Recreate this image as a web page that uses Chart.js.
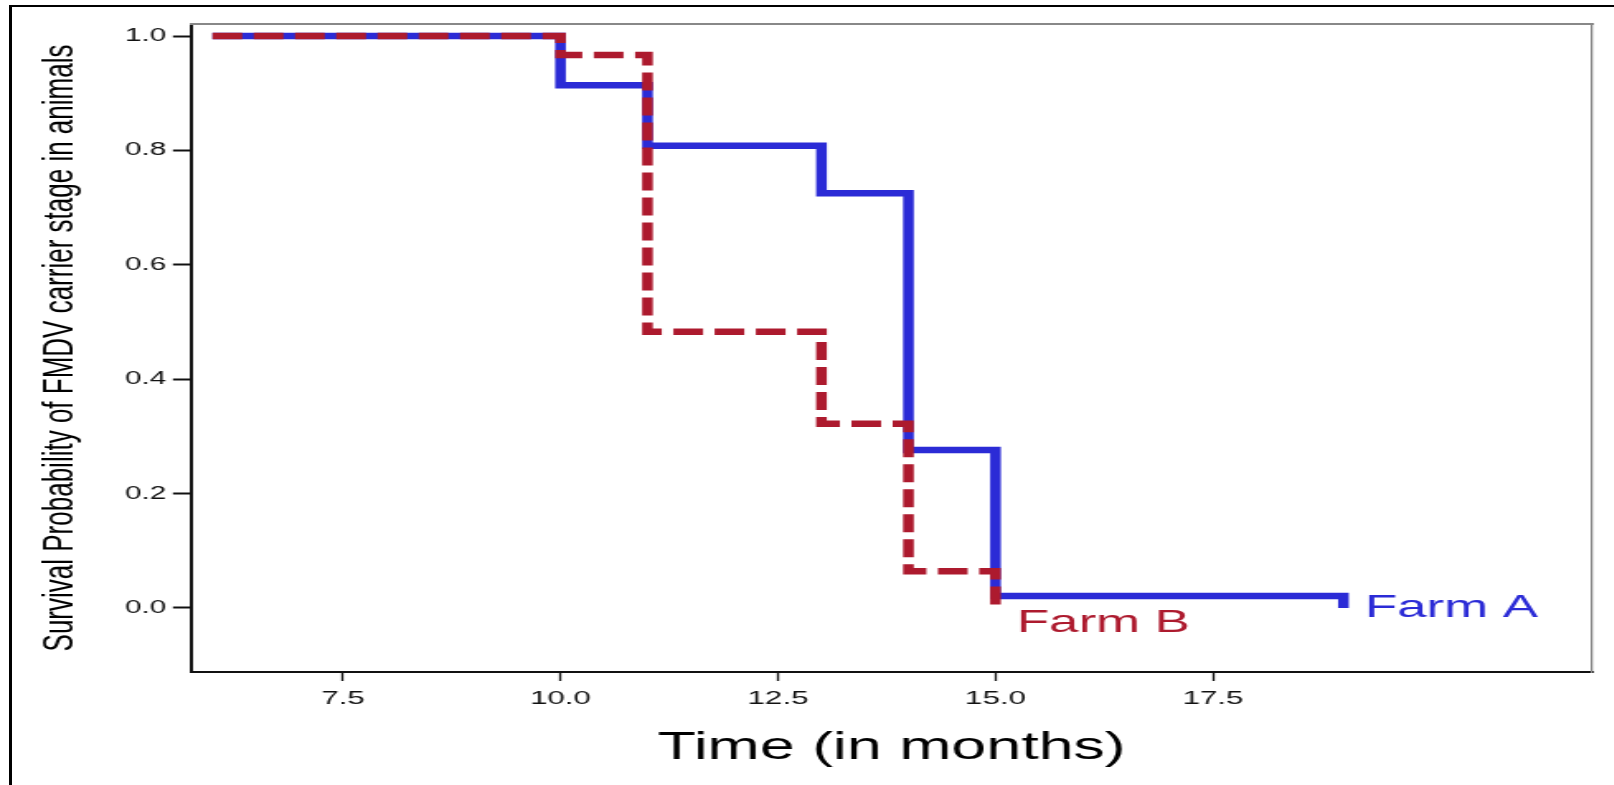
<!DOCTYPE html>
<html>
<head>
<meta charset="utf-8">
<title>Survival curves</title>
<script src="https://cdn.jsdelivr.net/npm/chart.js@4"></script>
<style>
  html, body { margin: 0; padding: 0; background: #fff; overflow: hidden; }
  #frame {
    position: absolute; left: 9px; top: 5px; width: 2000px; height: 2000px;
    border-left: 3px solid #000; border-top: 2px solid #000;
  }
  /* the reference is stretched sideways, so the canvas is too */
  #stretch { position: absolute; left: 0; top: 0; transform: scaleX(1.65); transform-origin: 0 0; }
</style>
</head>
<body>
<div id="frame"></div>
<div id="stretch"><canvas id="kmChart" width="978" height="785"></canvas></div>
<script>
// Kaplan-Meier steps
const farmATime = [6, 10, 11, 13, 14, 15, 19];
const farmASurv = [1.0, 0.914, 0.808, 0.725, 0.276, 0.021, 0.0];
const farmBTime = [6, 10, 11, 13, 14, 15];
const farmBSurv = [1.0, 0.967, 0.483, 0.322, 0.064, 0.0];

const xTicks = [7.5, 10, 12.5, 15, 17.5];
const yTicks = [0, 0.2, 0.4, 0.6, 0.8, 1.0];

const curveNames = ["Farm A", "Farm B"];
const curveColors = ["#2b2bd6", "#ad1a2e"];
const curveEnds = [[19, 0], [15, 0]];

const toPoints = (t, s) => t.map((v, i) => ({ x: v, y: s[i] }));

Chart.defaults.font.family = '"Liberation Sans", Arial, Helvetica, sans-serif';
Chart.defaults.color = "#111";

// names written next to the end of each curve
const curveLabelPlugin = {
  id: "curveLabels",
  afterDatasetsDraw(chart) {
    const ctx = chart.ctx;
    const xs = chart.scales.x;
    const ys = chart.scales.y;
    const nudgeY = [0, 15];
    ctx.save();
    ctx.font = '32px "Liberation Sans", Arial, sans-serif';
    ctx.textAlign = "left";
    ctx.textBaseline = "middle";
    curveNames.forEach((name, i) => {
      ctx.fillStyle = curveColors[i];
      ctx.fillText(
        name,
        xs.getPixelForValue(curveEnds[i][0]) + 13,
        ys.getPixelForValue(curveEnds[i][1]) + nudgeY[i]
      );
    });
    ctx.restore();
  },
};

const ctx = document.getElementById("kmChart").getContext("2d");
new Chart(ctx, {
  type: "line",
  data: {
    datasets: [
      {
        label: curveNames[0],
        data: toPoints(farmATime, farmASurv),
        borderColor: curveColors[0],
        borderWidth: 6.5,
        stepped: "before",
        pointRadius: 0,
        borderCapStyle: "butt",
        borderJoinStyle: "miter",
        fill: false,
        order: 1,
      },
      {
        label: curveNames[1],
        data: toPoints(farmBTime, farmBSurv),
        borderColor: curveColors[1],
        borderWidth: 6.5,
        borderDash: [18, 7],
        stepped: "before",
        pointRadius: 0,
        borderCapStyle: "butt",
        borderJoinStyle: "miter",
        fill: false,
        order: 0,
      },
    ],
  },
  options: {
    responsive: false,
    animation: false,
    layout: { padding: { top: 24, right: 13, left: 0, bottom: 0 } },
    plugins: {
      legend: { display: false },
      tooltip: { enabled: false },
    },
    scales: {
      x: {
        type: "linear",
        position: "bottom",
        min: 5.754,
        max: 21.86,
        afterBuildTicks: (s) => { s.ticks = xTicks.map((v) => ({ value: v })); },
        afterFit: (s) => { s.height = 113; },
        ticks: {
          callback: (v) => Number(v).toFixed(1),
          font: { size: 19 },
          color: "#111",
          padding: 6,
          maxRotation: 0,
          autoSkip: false,
        },
        grid: { drawOnChartArea: false, tickLength: 9, tickWidth: 1.3, tickColor: "#111" },
        border: { color: "#111", width: 2 },
        title: {
          display: true,
          text: "Time (in months)",
          color: "#000",
          font: { size: 38 },
          padding: { top: 0, bottom: 14 },
        },
      },
      y: {
        type: "linear",
        position: "left",
        min: -0.112,
        max: 1.021,
        afterBuildTicks: (s) => { s.ticks = yTicks.map((v) => ({ value: v })); },
        afterFit: (s) => { s.width = 115.8; },
        ticks: {
          callback: (v) => Number(v).toFixed(1),
          font: { size: 18 },
          color: "#111",
          padding: 4,
        },
        grid: { drawOnChartArea: false, tickLength: 11, tickWidth: 2, tickColor: "#111" },
        border: { color: "#111", width: 2 },
        title: {
          display: true,
          text: "Survival Probability of FMDV carrier stage in animals",
          color: "#000",
          font: { size: 26 },
          padding: { top: 21, bottom: 0 },
        },
      },
      xTop: {
        type: "linear",
        position: "top",
        afterFit: (s) => { s.height = 0; },
        ticks: { display: false },
        grid: { display: false },
        border: { color: "#888", width: 2 },
      },
      yRight: {
        type: "linear",
        position: "right",
        afterFit: (s) => { s.width = 0; },
        ticks: { display: false },
        grid: { display: false },
        border: { color: "#888", width: 1.3 },
      },
    },
  },
  plugins: [curveLabelPlugin],
});
</script>
</body>
</html>
